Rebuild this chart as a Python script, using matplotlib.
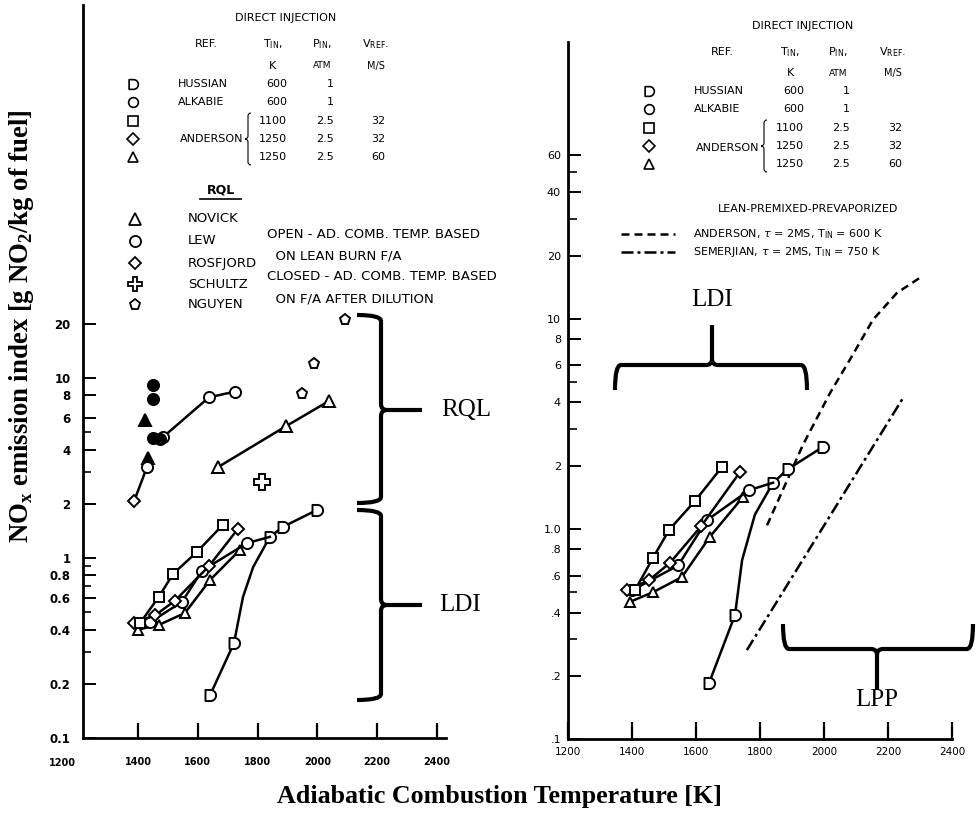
import numpy as np
import matplotlib
matplotlib.use("Agg")
import matplotlib.pyplot as plt
from matplotlib.path import Path
from matplotlib.patches import PathPatch

plt.rcParams["mathtext.fontset"] = "custom"
plt.rcParams["mathtext.rm"] = "Liberation Serif"
plt.rcParams["mathtext.bf"] = "Liberation Serif:bold"
plt.rcParams["mathtext.sf"] = "DejaVu Sans"

W, H = 977, 815

# ---- left panel: RQL data (top group), temperature [K] vs EI NOx [g/kg]
rql_nguyen_T = [1948, 1989, 2092]
rql_nguyen_EI = [8.15, 12.0, 21.0]
rql_novick_T = [1668, 1895, 2039]
rql_novick_EI = [3.2, 5.4, 7.45]
rql_lew_T = [1484, 1637, 1724]
rql_lew_EI = [4.7, 7.8, 8.4]
rql_lew_closed_T = [1450, 1450, 1450, 1474]
rql_lew_closed_EI = [9.1, 7.6, 4.65, 4.6]
rql_novick_closed_T = [1423, 1433]
rql_novick_closed_EI = [5.85, 3.6]
rql_rosfjord_T = [1387, 1430]
rql_rosfjord_EI = [2.07, 3.2]
rql_schultz_T = [1815]
rql_schultz_EI = [2.64]

# ---- left panel: LDI data (bottom group)
ldiL_sq_T = [1407, 1470, 1517, 1597, 1684]
ldiL_sq_EI = [0.435, 0.61, 0.815, 1.08, 1.53]
ldiL_dia_T = [1387, 1457, 1524, 1637, 1734]
ldiL_dia_EI = [0.435, 0.48, 0.58, 0.90, 1.45]
ldiL_circ_T = [1440, 1547, 1614, 1765, 1841]
ldiL_circ_EI = [0.44, 0.57, 0.85, 1.21, 1.31]
ldiL_tri_T = [1400, 1470, 1557, 1641, 1741]
ldiL_tri_EI = [0.40, 0.425, 0.495, 0.755, 1.11]
ldiL_hus_T = [1641, 1721, 1751, 1785, 1841, 1885, 1999]
ldiL_hus_EI = [0.173, 0.337, 0.607, 0.89, 1.31, 1.49, 1.85]

# ---- right panel: LDI data
ldiR_sq_T = [1409, 1466, 1516, 1597, 1681]
ldiR_sq_EI = [0.51, 0.73, 0.99, 1.36, 1.97]
ldiR_dia_T = [1384, 1453, 1519, 1616, 1738]
ldiR_dia_EI = [0.51, 0.57, 0.69, 1.03, 1.87]
ldiR_circ_T = [1400, 1544, 1634, 1766, 1841]
ldiR_circ_EI = [0.51, 0.67, 1.10, 1.53, 1.66]
ldiR_tri_T = [1394, 1466, 1556, 1644, 1747]
ldiR_tri_EI = [0.45, 0.50, 0.59, 0.92, 1.42]
ldiR_hus_T = [1641, 1722, 1744, 1784, 1841, 1888, 1997]
ldiR_hus_EI = [0.185, 0.39, 0.71, 1.17, 1.66, 1.93, 2.46]

# ---- right panel: LPP curves
lpp_anderson_T = [1822, 1934, 2019, 2081, 2153, 2228, 2300]
lpp_anderson_EI = [1.04, 2.51, 4.44, 6.4, 9.9, 13.3, 15.7]
lpp_semerjian_T = [1759, 2247]
lpp_semerjian_EI = [0.265, 4.2]

# ---- axis ticks
left_yticks = [0.1, 0.2, 0.4, 0.6, 0.8, 1, 2, 4, 6, 8, 10, 20]
left_ylabels = ["0.1", "0.2", "0.4", "0.6", "0.8", "1", "2", "4", "6", "8", "10", "20"]
right_yticks = [0.1, 0.2, 0.4, 0.6, 0.8, 1, 2, 4, 6, 8, 10, 20, 40, 60]
right_ylabels = [".1", ".2", ".4", ".6", ".8", "1.0", "2", "4", "6", "8", "10", "20", "40", "60"]
xticks = [1200, 1400, 1600, 1800, 2000, 2200, 2400]

# ---- legend tables
di_refs = ["HUSSIAN", "ALKABIE", "", "", ""]
di_tin = ["600", "600", "1100", "1250", "1250"]
di_pin = ["1", "1", "2.5", "2.5", "2.5"]
di_vref = ["", "", "32", "32", "60"]
rql_refs = ["NOVICK", "LEW", "ROSFJORD", "SCHULTZ", "NGUYEN"]
rql_notes = ["OPEN - AD. COMB. TEMP. BASED", "  ON LEAN BURN F/A",
             "CLOSED - AD. COMB. TEMP. BASED", "  ON F/A AFTER DILUTION"]

# "D" shaped marker (flat left side, round right side)
th = np.linspace(-np.pi / 2, np.pi / 2, 25)
d_verts = [(-0.9, -1.0)] + list(zip(np.cos(th), np.sin(th))) + [(-0.9, 1.0), (-0.9, -1.0)]
d_codes = [Path.MOVETO] + [Path.LINETO] * (len(d_verts) - 2) + [Path.CLOSEPOLY]
D_MARK = Path(d_verts, d_codes)

di_markers = [D_MARK, "o", "s", "D", "^"]
di_msizes = [7, 7, 7, 6, 7]
rql_markers = ["^", "o", "D", "P", "p"]
rql_msizes = [8, 8, 6.5, 10, 8]

fig = plt.figure(figsize=(W / 100, H / 100), dpi=100)


def px_box(x0, ytop, x1, ybot):
    return [x0 / W, 1 - ybot / H, (x1 - x0) / W, (ybot - ytop) / H]


axl = fig.add_axes(px_box(83, 5, 446, 738))
axr = fig.add_axes(px_box(568, 42, 952, 739))

for ax in (axl, axr):
    ax.set_yscale("log")
    ax.spines["top"].set_visible(False)
    ax.spines["right"].set_visible(False)
    ax.spines["left"].set_linewidth(2)
    ax.spines["bottom"].set_linewidth(2)
    ax.patch.set_alpha(0)

axl.set_xlim(1216, 2430)
axl.set_ylim(0.1, 1180)
axr.set_xlim(1200, 2400)
axr.set_ylim(0.1, 208)

axl.set_xticks(xticks[1:])
axl.set_xticklabels(xticks[1:], fontsize=7, fontweight="bold")
axl.set_yticks(left_yticks)
axl.set_yticklabels(left_ylabels, fontsize=8.5, fontweight="bold")
axl.set_yticks([0.3, 0.5, 0.7, 0.9, 3, 5], minor=True)
axl.set_yticklabels([], minor=True)
axl.tick_params(axis="x", direction="in", length=11, width=1.6, pad=14)
axl.tick_params(axis="y", which="major", direction="in", length=9, width=1.4, pad=9)
axl.tick_params(axis="y", which="minor", direction="in", length=6, width=1.2)

axr.set_xticks(xticks)
axr.set_xticklabels(xticks, fontsize=7.5)
axr.set_yticks(right_yticks)
axr.set_yticklabels(right_ylabels, fontsize=8)
axr.set_yticks([0.3, 0.5, 3, 5, 30, 50], minor=True)
axr.set_yticklabels([], minor=True)
axr.tick_params(axis="x", direction="in", length=12, width=1.6, pad=6)
axr.tick_params(axis="y", which="major", direction="in", length=9, width=1.4, pad=5)
axr.tick_params(axis="y", which="minor", direction="in", length=6.5, width=1.2)


def series(ax, T, EI, marker, ms=8, filled=False, line=True, every=None):
    ax.plot(T, EI, color="k", lw=1.8, linestyle="-" if line else "none",
            marker=marker, ms=ms, mfc="k" if filled else "white", mec="k",
            mew=1.4, markevery=every, clip_on=False, zorder=3)


# left panel RQL
series(axl, rql_nguyen_T, rql_nguyen_EI, "p", line=False)
series(axl, rql_novick_T, rql_novick_EI, "^")
series(axl, rql_lew_T, rql_lew_EI, "o")
series(axl, rql_lew_closed_T, rql_lew_closed_EI, "o", filled=True, line=False)
series(axl, rql_novick_closed_T, rql_novick_closed_EI, "^", filled=True, line=False)
axl.plot(rql_rosfjord_T, rql_rosfjord_EI, color="k", lw=1.8, zorder=2)
series(axl, rql_rosfjord_T[:1], rql_rosfjord_EI[:1], "D", ms=6.5, line=False)
series(axl, rql_rosfjord_T[1:], rql_rosfjord_EI[1:], "o", line=False)
series(axl, rql_schultz_T, rql_schultz_EI, "P", ms=11, line=False)

# left panel LDI
series(axl, ldiL_hus_T, ldiL_hus_EI, D_MARK, every=[0, 1, 4, 5, 6])
series(axl, ldiL_tri_T, ldiL_tri_EI, "^", ms=7.5)
series(axl, ldiL_circ_T, ldiL_circ_EI, "o", every=[0, 1, 2, 3])
series(axl, ldiL_dia_T, ldiL_dia_EI, "D", ms=6)
series(axl, ldiL_sq_T, ldiL_sq_EI, "s", ms=7.5)

# right panel LDI
series(axr, ldiR_hus_T, ldiR_hus_EI, D_MARK, every=[0, 1, 4, 5, 6])
series(axr, ldiR_tri_T, ldiR_tri_EI, "^", ms=7.5)
series(axr, ldiR_circ_T, ldiR_circ_EI, "o", every=[0, 1, 2, 3])
series(axr, ldiR_dia_T, ldiR_dia_EI, "D", ms=6)
series(axr, ldiR_sq_T, ldiR_sq_EI, "s", ms=7.5)

# right panel LPP
axr.plot(lpp_anderson_T, lpp_anderson_EI, color="k", lw=1.8, ls=(0, (3.2, 2.0)))
axr.plot(lpp_semerjian_T, lpp_semerjian_EI, color="k", lw=1.8, ls=(0, (4.8, 1.6, 1.2, 1.6)))

# ---- overlay in pixel coordinates for legends, braces and notes
ov = fig.add_axes([0, 0, 1, 1])
ov.set_xlim(0, W)
ov.set_ylim(H, 0)
ov.axis("off")
ov.patch.set_alpha(0)

FS = "DejaVu Sans"


def txt(x, y, s, size=8, ha="left", **kw):
    ov.text(x, y, s, fontsize=size, ha=ha, va="center", family=FS, **kw)


def brace(a0, a1, am, base, spine, tip, vertical, lw=3.0, r=6):
    s = 1 if a1 > a0 else -1
    d = 1 if tip > spine else -1
    pts = [(a0, base), (a0, spine), (a0 + s * r, spine), (am - s * r, spine),
           (am, spine), (am, spine + d * r), (am, tip),
           (a1, base), (a1, spine), (a1 - s * r, spine), (am + s * r, spine),
           (am, spine), (am, spine + d * r)]
    codes = [Path.MOVETO, Path.CURVE3, Path.CURVE3, Path.LINETO, Path.CURVE3, Path.CURVE3,
             Path.LINETO, Path.MOVETO, Path.CURVE3, Path.CURVE3, Path.LINETO, Path.CURVE3,
             Path.CURVE3]
    if vertical:
        pts = [(v, u) for u, v in pts]
    ov.add_patch(PathPatch(Path(pts, codes), fill=False, lw=lw, edgecolor="k",
                           capstyle="butt", joinstyle="round"))


def di_table(xc, y_head, y_unit, rows_y, x_mark, x_name, x_and, y_and, x_br, x_t, x_p, x_v):
    txt(xc, y_head - 26, "DIRECT INJECTION", ha="center")
    txt(x_name + 28, y_head, "REF.", ha="center")
    txt(x_t - 14, y_head, r"T$_{\mathsf{IN}}$,", ha="center")
    txt(x_p - 12, y_head, r"P$_{\mathsf{IN}}$,", ha="center")
    txt(x_v - 9, y_head, r"V$_{\mathsf{REF}}$.", ha="center")
    txt(x_t - 14, y_unit, "K", ha="center")
    txt(x_p - 12, y_unit, "ATM", ha="center", size=6.5)
    txt(x_v - 9, y_unit, "M/S", ha="center", size=7)
    for i, y in enumerate(rows_y):
        ov.plot([x_mark], [y], marker=di_markers[i], ms=di_msizes[i], mfc="white",
                mec="k", mew=1.2, ls="none")
        if di_refs[i]:
            txt(x_name, y, di_refs[i])
        txt(x_t, y, di_tin[i], ha="right")
        txt(x_p, y, di_pin[i], ha="right")
        txt(x_v, y, di_vref[i], ha="right")
    txt(x_and, y_and, "ANDERSON")
    brace(rows_y[2] - 8, rows_y[4] + 8, rows_y[3], x_br + 3, x_br, x_br - 3, True, lw=0.8, r=3)


# left legend
di_table(286, 44, 66, [84, 102, 121, 139, 157], 133, 178, 180, 139, 248, 287, 334, 385)
txt(221, 190, "RQL", size=9, ha="center", fontweight="bold")
ov.plot([200, 241], [199, 199], color="k", lw=1.2)
for i, y in enumerate([219, 241, 263, 284, 305]):
    ov.plot([135], [y], marker=rql_markers[i], ms=rql_msizes[i], mfc="white",
            mec="k", mew=1.3, ls="none")
    txt(188, y, rql_refs[i], size=9.5)
for note, y in zip(rql_notes, [234, 256, 277, 299]):
    txt(267, y, note, size=9.5)

# right legend
di_table(803, 52, 73, [91, 109, 128, 146, 164], 649, 694, 696, 148, 764, 804, 850, 902)
txt(808, 209, "LEAN-PREMIXED-PREVAPORIZED", ha="center")
ov.plot([621, 675], [234, 234], color="k", lw=1.8, ls=(0, (3.2, 2.0)))
ov.plot([621, 675], [252, 252], color="k", lw=1.8, ls=(0, (4.8, 1.6, 1.2, 1.6)))
txt(693, 234, r"ANDERSON, $\tau$ = 2MS, T$_{\mathsf{IN}}$ = 600 K")
txt(693, 252, r"SEMERJIAN, $\tau$ = 2MS, T$_{\mathsf{IN}}$ = 750 K")

# braces
brace(315, 503, 410, 357, 381, 422, True)
brace(510, 700, 605, 357, 381, 422, True)
brace(615, 807, 712, 390, 365, 325, False)
brace(783, 973, 877, 624, 649, 690, False)
serif = dict(family="Liberation Serif", va="center", ha="center")
ov.text(466, 410, "RQL", fontsize=18, **serif)
ov.text(460, 605, "LDI", fontsize=18, **serif)
ov.text(712, 300, "LDI", fontsize=18, **serif)
ov.text(877, 700, "LPP", fontsize=18, **serif)

# stray 1200 label of the left panel
ov.text(62, 763, "1200", fontsize=7, fontweight="bold", family=FS, ha="center", va="center")

fig.text(499 / W, 1 - 797 / H, "Adiabatic Combustion Temperature [K]", fontsize=18.7,
         fontweight="bold", family="Liberation Serif", ha="center", va="center")
fig.text(22 / W, 1 - 326 / H, r"NO$_\mathbf{x}$ emission index [g NO$_\mathbf{2}$/kg of fuel]",
         fontsize=19.3, fontweight="bold", family="Liberation Serif", rotation=90,
         ha="center", va="center")

fig.savefig("out.png", dpi=100)
